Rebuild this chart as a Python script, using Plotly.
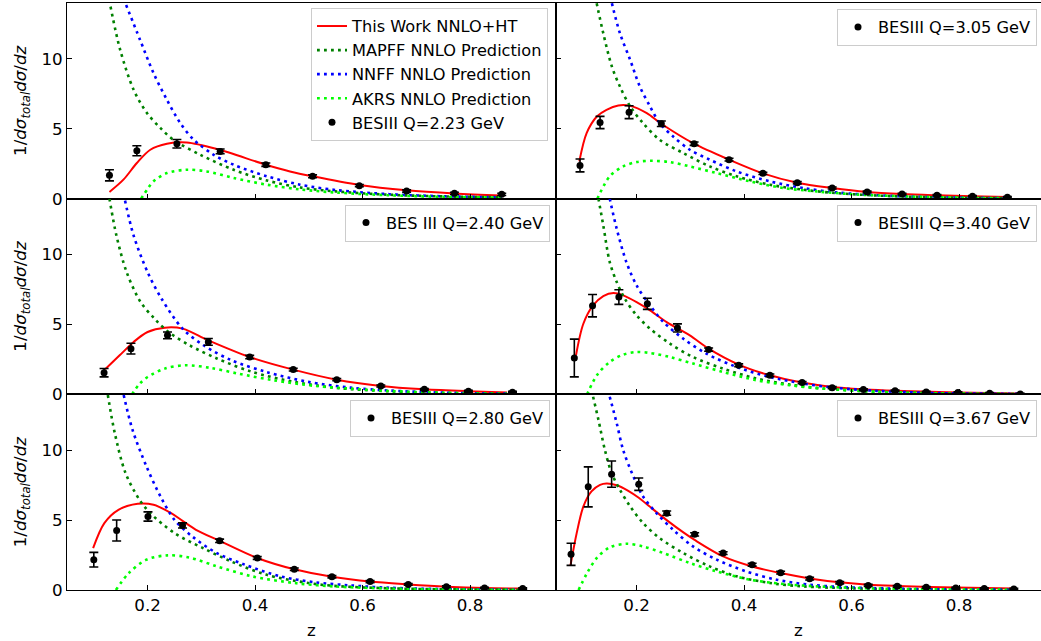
import plotly.graph_objects as go

# ---------------- data ----------------
CURVE_NAMES = ["This Work NNLO+HT", "MAPFF NNLO Prediction", "NNFF NNLO Prediction", "AKRS NNLO Prediction"]
DATA_LABELS = ["BESIII Q=2.23 GeV", "BESIII Q=3.05 GeV", "BES III Q=2.40 GeV",
               "BESIII Q=3.40 GeV", "BESIII Q=2.80 GeV", "BESIII Q=3.67 GeV"]
X_TICKS = [0.2, 0.4, 0.6, 0.8]
X_TICK_TEXT = ["0.2", "0.4", "0.6", "0.8"]
Y_TICKS = [0, 5, 10]
Y_TICK_TEXT = ["0", "5", "10"]

# Panel 1 : Q = 2.23 GeV
Z_P1 = [0.129, 0.180, 0.2545, 0.335, 0.420, 0.507, 0.594, 0.682, 0.771, 0.859]
Y_P1 = [1.67, 3.43, 3.93, 3.38, 2.43, 1.60, 0.93, 0.55, 0.38, 0.31]
E_P1 = [0.40, 0.36, 0.30, 0.17, 0.12, 0.10, 0.08, 0.08, 0.08, 0.08]
RED_Z_P1 = [0.129, 0.155, 0.180, 0.205, 0.236, 0.273, 0.329, 0.420, 0.465, 0.507, 0.594, 0.682, 0.771, 0.859]
RED_Y_P1 = [0.48, 1.36, 2.55, 3.50, 3.93, 4.02, 3.55, 2.43, 1.95, 1.60, 0.98, 0.60, 0.37, 0.22]
MAP_Z_P1 = [0.131, 0.149, 0.174, 0.199, 0.224, 0.248, 0.298, 0.360, 0.422, 0.484, 0.550, 0.650, 0.750, 0.859]
MAP_Y_P1 = [13.74, 10.64, 7.79, 6.12, 5.05, 4.21, 3.14, 2.07, 1.30, 0.80, 0.52, 0.28, 0.16, 0.10]
NNF_Z_P1 = [0.160, 0.186, 0.211, 0.236, 0.261, 0.286, 0.323, 0.360, 0.422, 0.484, 0.550, 0.650, 0.750, 0.859]
NNF_Y_P1 = [13.86, 11.36, 8.98, 7.07, 5.40, 4.21, 3.14, 2.43, 1.60, 1.00, 0.62, 0.32, 0.17, 0.10]
AKR_Z_P1 = [0.188, 0.200, 0.211, 0.236, 0.273, 0.310, 0.360, 0.422, 0.484, 0.550, 0.650, 0.750, 0.859]
AKR_Y_P1 = [0.00, 0.70, 1.24, 1.83, 2.07, 1.95, 1.48, 1.00, 0.66, 0.44, 0.24, 0.13, 0.08]

# Panel 2 : Q = 3.05 GeV
Z_P2 = [0.0947, 0.132, 0.186, 0.246, 0.307, 0.372, 0.435, 0.499, 0.564, 0.629, 0.694, 0.759, 0.825, 0.890]
Y_P2 = [2.38, 5.45, 6.19, 5.36, 3.93, 2.79, 1.81, 1.14, 0.76, 0.48, 0.33, 0.24, 0.17, 0.10]
E_P2 = [0.46, 0.44, 0.46, 0.20, 0.12, 0.10, 0.08, 0.08, 0.07, 0.06, 0.06, 0.05, 0.05, 0.05]
RED_Z_P2 = [0.0934, 0.107, 0.126, 0.144, 0.166, 0.188, 0.219, 0.246, 0.307, 0.372, 0.435, 0.499, 0.564, 0.629, 0.694, 0.759, 0.825, 0.890]
RED_Y_P2 = [2.67, 4.69, 5.88, 6.36, 6.67, 6.64, 6.12, 5.36, 3.93, 2.79, 1.81, 1.14, 0.76, 0.48, 0.33, 0.24, 0.17, 0.12]
MAP_Z_P2 = [0.1257, 0.138, 0.154, 0.169, 0.188, 0.212, 0.243, 0.287, 0.336, 0.386, 0.448, 0.510, 0.572, 0.650, 0.750, 0.890]
MAP_Y_P2 = [13.98, 11.83, 9.45, 8.02, 6.60, 5.40, 4.21, 3.26, 2.31, 1.60, 1.00, 0.64, 0.40, 0.22, 0.10, 0.04]
NNF_Z_P2 = [0.154, 0.169, 0.188, 0.206, 0.225, 0.243, 0.268, 0.299, 0.336, 0.386, 0.448, 0.510, 0.572, 0.650, 0.750, 0.890]
NNF_Y_P2 = [13.98, 11.83, 9.93, 8.02, 6.60, 5.40, 4.45, 3.50, 2.79, 1.95, 1.24, 0.76, 0.45, 0.24, 0.11, 0.04]
AKR_Z_P2 = [0.127, 0.150, 0.175, 0.200, 0.225, 0.262, 0.299, 0.349, 0.411, 0.473, 0.535, 0.600, 0.700, 0.800, 0.890]
AKR_Y_P2 = [0.00, 1.60, 2.31, 2.62, 2.71, 2.62, 2.31, 1.83, 1.24, 0.76, 0.52, 0.32, 0.16, 0.07, 0.03]

# Panel 3 : Q = 2.40 GeV
Z_P3 = [0.119, 0.169, 0.237, 0.313, 0.390, 0.471, 0.552, 0.634, 0.715, 0.797, 0.879]
Y_P3 = [1.55, 3.27, 4.22, 3.75, 2.67, 1.77, 1.05, 0.60, 0.36, 0.22, 0.15]
E_P3 = [0.30, 0.38, 0.24, 0.24, 0.12, 0.10, 0.08, 0.07, 0.06, 0.06, 0.06]
RED_Z_P3 = [0.121, 0.148, 0.174, 0.200, 0.232, 0.265, 0.313, 0.390, 0.471, 0.552, 0.634, 0.715, 0.797, 0.869]
RED_Y_P3 = [1.79, 2.79, 3.75, 4.46, 4.77, 4.70, 3.86, 2.67, 1.77, 1.05, 0.60, 0.36, 0.22, 0.13]
MAP_Z_P3 = [0.129, 0.142, 0.161, 0.187, 0.213, 0.239, 0.278, 0.330, 0.395, 0.473, 0.551, 0.650, 0.750, 0.869]
MAP_Y_P3 = [14.00, 11.36, 8.74, 6.60, 5.41, 4.46, 3.51, 2.55, 1.60, 0.89, 0.46, 0.22, 0.10, 0.04]
NNF_Z_P3 = [0.158, 0.174, 0.200, 0.226, 0.265, 0.304, 0.356, 0.421, 0.499, 0.577, 0.650, 0.750, 0.869]
NNF_Y_P3 = [13.86, 11.36, 8.74, 6.84, 4.70, 3.51, 2.44, 1.60, 0.89, 0.48, 0.27, 0.12, 0.05]
AKR_Z_P3 = [0.171, 0.185, 0.200, 0.232, 0.271, 0.317, 0.369, 0.434, 0.512, 0.577, 0.650, 0.750, 0.869]
AKR_Y_P3 = [0.00, 0.75, 1.24, 1.84, 2.08, 1.89, 1.48, 1.01, 0.60, 0.41, 0.24, 0.11, 0.04]

# Panel 4 : Q = 3.40 GeV
Z_P4 = [0.0841, 0.118, 0.167, 0.220, 0.276, 0.334, 0.390, 0.448, 0.508, 0.564, 0.622, 0.681, 0.739, 0.798, 0.857, 0.914]
Y_P4 = [2.60, 6.34, 6.96, 6.48, 4.75, 3.20, 2.08, 1.36, 0.84, 0.48, 0.34, 0.25, 0.17, 0.13, 0.08, 0.03]
E_P4 = [1.35, 0.80, 0.52, 0.40, 0.29, 0.12, 0.10, 0.10, 0.08, 0.07, 0.06, 0.05, 0.05, 0.05, 0.05, 0.04]
RED_Z_P4 = [0.0872, 0.1009, 0.119, 0.138, 0.157, 0.175, 0.200, 0.225, 0.256, 0.299, 0.334, 0.390, 0.448, 0.508, 0.564, 0.622, 0.681, 0.798, 0.914]
RED_Y_P4 = [2.79, 5.05, 6.36, 7.03, 7.25, 7.08, 6.60, 6.01, 5.17, 4.22, 3.27, 2.13, 1.36, 0.84, 0.53, 0.36, 0.25, 0.13, 0.05]
MAP_Z_P4 = [0.129, 0.138, 0.150, 0.163, 0.178, 0.200, 0.225, 0.262, 0.305, 0.361, 0.423, 0.485, 0.547, 0.650, 0.750, 0.914]
MAP_Y_P4 = [14.00, 12.08, 9.46, 8.03, 6.84, 5.65, 4.70, 3.63, 2.67, 1.84, 1.13, 0.70, 0.41, 0.18, 0.08, 0.02]
NNF_Z_P4 = [0.150, 0.163, 0.181, 0.200, 0.225, 0.250, 0.287, 0.330, 0.386, 0.448, 0.510, 0.572, 0.650, 0.750, 0.914]
NNF_Y_P4 = [14.00, 11.84, 9.46, 7.79, 6.36, 5.17, 3.98, 2.91, 1.96, 1.24, 0.77, 0.46, 0.24, 0.10, 0.03]
AKR_Z_P4 = [0.108, 0.126, 0.150, 0.175, 0.200, 0.225, 0.262, 0.305, 0.361, 0.423, 0.485, 0.547, 0.650, 0.750, 0.914]
AKR_Y_P4 = [0.00, 1.36, 2.32, 2.84, 3.03, 2.96, 2.67, 2.20, 1.60, 1.01, 0.65, 0.41, 0.18, 0.08, 0.02]

# Panel 5 : Q = 2.80 GeV
Z_P5 = [0.0999, 0.1424, 0.2007, 0.265, 0.334, 0.404, 0.473, 0.543, 0.614, 0.685, 0.756, 0.827, 0.898]
Y_P5 = [2.17, 4.26, 5.26, 4.62, 3.52, 2.29, 1.48, 0.95, 0.60, 0.40, 0.24, 0.14, 0.10]
E_P5 = [0.52, 0.75, 0.33, 0.18, 0.12, 0.10, 0.09, 0.08, 0.07, 0.06, 0.06, 0.05, 0.05]
RED_Z_P5 = [0.0986, 0.1195, 0.1457, 0.1817, 0.211, 0.2438, 0.265, 0.290, 0.334, 0.404, 0.473, 0.543, 0.614, 0.685, 0.756, 0.827, 0.898]
RED_Y_P5 = [3.00, 4.79, 5.74, 6.17, 6.10, 5.50, 4.95, 4.31, 3.52, 2.29, 1.48, 0.95, 0.60, 0.40, 0.24, 0.14, 0.10]
MAP_Z_P5 = [0.126, 0.139, 0.159, 0.185, 0.205, 0.250, 0.303, 0.355, 0.420, 0.499, 0.545, 0.650, 0.750, 0.898]
MAP_Y_P5 = [13.95, 11.21, 8.36, 6.45, 5.50, 4.07, 3.00, 2.05, 1.10, 0.50, 0.30, 0.12, 0.05, 0.02]
NNF_Z_P5 = [0.1555, 0.172, 0.198, 0.224, 0.250, 0.283, 0.329, 0.381, 0.447, 0.512, 0.577, 0.650, 0.750, 0.898]
NNF_Y_P5 = [13.95, 11.45, 8.83, 6.69, 5.02, 3.83, 2.64, 1.81, 0.98, 0.55, 0.33, 0.16, 0.07, 0.02]
AKR_Z_P5 = [0.141, 0.165, 0.198, 0.237, 0.277, 0.329, 0.394, 0.473, 0.545, 0.650, 0.750, 0.898]
AKR_Y_P5 = [0.00, 1.21, 2.17, 2.48, 2.33, 1.69, 0.98, 0.50, 0.26, 0.10, 0.04, 0.01]

# Panel 6 : Q = 3.67 GeV
Z_P6 = [0.078, 0.110, 0.1535, 0.204, 0.256, 0.308, 0.361, 0.415, 0.468, 0.522, 0.578, 0.631, 0.685, 0.739, 0.794, 0.847, 0.902]
Y_P6 = [2.55, 7.38, 8.29, 7.57, 5.50, 3.98, 2.64, 1.81, 1.24, 0.81, 0.52, 0.33, 0.26, 0.19, 0.14, 0.10, 0.07]
E_P6 = [0.79, 1.43, 0.94, 0.44, 0.15, 0.12, 0.10, 0.10, 0.10, 0.10, 0.08, 0.07, 0.06, 0.06, 0.05, 0.05, 0.05]
RED_Z_P6 = [0.077, 0.0885, 0.101, 0.116, 0.132, 0.144, 0.163, 0.1845, 0.204, 0.225, 0.256, 0.287, 0.308, 0.361, 0.415, 0.468, 0.522, 0.578, 0.631, 0.685, 0.794, 0.902]
RED_Y_P6 = [1.76, 4.07, 5.98, 7.05, 7.52, 7.62, 7.50, 7.10, 6.60, 5.95, 5.00, 4.12, 3.58, 2.40, 1.68, 1.21, 0.83, 0.55, 0.38, 0.29, 0.17, 0.10]
MAP_Z_P6 = [0.119, 0.129, 0.141, 0.1535, 0.169, 0.188, 0.212, 0.243, 0.287, 0.336, 0.386, 0.448, 0.510, 0.600, 0.700, 0.902]
MAP_Y_P6 = [13.83, 12.17, 10.02, 8.36, 7.17, 5.98, 4.79, 3.71, 2.64, 1.69, 0.98, 0.50, 0.26, 0.12, 0.06, 0.02]
NNF_Z_P6 = [0.150, 0.163, 0.175, 0.194, 0.212, 0.237, 0.268, 0.305, 0.349, 0.404, 0.460, 0.522, 0.584, 0.700, 0.800, 0.902]
NNF_Y_P6 = [13.83, 11.93, 10.02, 8.12, 6.69, 5.50, 4.31, 3.12, 2.17, 1.33, 0.74, 0.38, 0.21, 0.08, 0.04, 0.02]
AKR_Z_P6 = [0.092, 0.107, 0.126, 0.150, 0.181, 0.212, 0.250, 0.299, 0.349, 0.411, 0.473, 0.535, 0.650, 0.750, 0.902]
AKR_Y_P6 = [0.00, 1.15, 2.30, 3.05, 3.31, 3.12, 2.64, 1.93, 1.33, 0.74, 0.43, 0.26, 0.10, 0.05, 0.02]

# ---------------- assemble ----------------
PANELS = [
    (Z_P1, Y_P1, E_P1, RED_Z_P1, RED_Y_P1, MAP_Z_P1, MAP_Y_P1, NNF_Z_P1, NNF_Y_P1, AKR_Z_P1, AKR_Y_P1),
    (Z_P2, Y_P2, E_P2, RED_Z_P2, RED_Y_P2, MAP_Z_P2, MAP_Y_P2, NNF_Z_P2, NNF_Y_P2, AKR_Z_P2, AKR_Y_P2),
    (Z_P3, Y_P3, E_P3, RED_Z_P3, RED_Y_P3, MAP_Z_P3, MAP_Y_P3, NNF_Z_P3, NNF_Y_P3, AKR_Z_P3, AKR_Y_P3),
    (Z_P4, Y_P4, E_P4, RED_Z_P4, RED_Y_P4, MAP_Z_P4, MAP_Y_P4, NNF_Z_P4, NNF_Y_P4, AKR_Z_P4, AKR_Y_P4),
    (Z_P5, Y_P5, E_P5, RED_Z_P5, RED_Y_P5, MAP_Z_P5, MAP_Y_P5, NNF_Z_P5, NNF_Y_P5, AKR_Z_P5, AKR_Y_P5),
    (Z_P6, Y_P6, E_P6, RED_Z_P6, RED_Y_P6, MAP_Z_P6, MAP_Y_P6, NNF_Z_P6, NNF_Y_P6, AKR_Z_P6, AKR_Y_P6),
]

FONT = "DejaVu Sans"
FS = 16.7
LEG_FS = 16.2
COLORS = ["#ff0000", "#008000", "#0000ff", "#00ff00"]
DOT = "2.8px,4.2px"

W, H = 1041, 641
ML, MR, MT, MB = 67, 0, 3, 51
plot_w = W - ML - MR
split = (556 - ML) / plot_w
X_RANGE_L = [0.05, 0.96]
px_per_unit = split * plot_w / (X_RANGE_L[1] - X_RANGE_L[0])
X_RANGE_R = [0.05, 0.05 + (1 - split) * plot_w / px_per_unit]
plot_h = H - MT - MB

fig = go.Figure()
layout = {}
YTITLE = "1/<i>dσ</i><sub><i>total</i></sub><i>dσ</i>/<i>dz</i>"

for i, p in enumerate(PANELS):
    k = i + 1
    row, col = i // 2, i % 2
    sfx = "" if k == 1 else str(k)
    xa, ya = "x" + sfx, "y" + sfx
    leg = "legend" + sfx
    zd, yd, ed, rz, ry, mz, my, nz, ny, az, ay = p
    first = (k == 1)
    curves = [(rz, ry), (mz, my), (nz, ny), (az, ay)]
    for j, (cz, cy) in enumerate(curves):
        fig.add_trace(go.Scatter(
            x=cz, y=cy, mode="lines", name=CURVE_NAMES[j],
            line=dict(color=COLORS[j], width=2.0 if j == 0 else 2.6,
                      dash="solid" if j == 0 else DOT, shape="spline", smoothing=0.9),
            showlegend=first, legend=leg, xaxis=xa, yaxis=ya, hoverinfo="skip"))
    fig.add_trace(go.Scatter(
        x=zd, y=yd, mode="markers", name=DATA_LABELS[i],
        marker=dict(color="black", size=7),
        error_y=dict(type="data", array=ed, color="black", thickness=1.6, width=4.5),
        legend=leg, showlegend=True, xaxis=xa, yaxis=ya))

    xdom = [0, split] if col == 0 else [split, 1]
    ydom = [1 - (row + 1) / 3, 1 - row / 3]
    xaxis = dict(
        domain=xdom, range=X_RANGE_L if col == 0 else X_RANGE_R, anchor=ya,
        showline=True, linecolor="black", linewidth=1, mirror=True,
        ticks="inside", ticklen=5, tickwidth=1, tickcolor="black",
        tickvals=X_TICKS, ticktext=X_TICK_TEXT, showticklabels=(row == 2),
        showgrid=False, zeroline=False,
        tickfont=dict(family=FONT, size=FS, color="black"))
    if row == 2:
        xaxis["title"] = dict(text="z", font=dict(family=FONT, size=FS, color="black"), standoff=10)
    yaxis = dict(
        domain=ydom, range=[0, 14], anchor=xa,
        showline=True, linecolor="black", linewidth=1, mirror=(col == 0),
        ticks="inside", ticklen=5, tickwidth=1, tickcolor="black",
        tickvals=Y_TICKS, ticktext=Y_TICK_TEXT, showticklabels=(col == 0),
        showgrid=False, zeroline=False,
        tickfont=dict(family=FONT, size=FS, color="black"))
    if col == 0:
        yaxis["title"] = dict(text=YTITLE, font=dict(family=FONT, size=FS, color="black"), standoff=10)
    layout["xaxis" + sfx] = xaxis
    layout["yaxis" + sfx] = yaxis

    # legend placement (top-right of each panel)
    right_px = 548 if k == 1 else (550 if col == 0 else 1037)
    top_px = [8.0, 9.0, 204.5, 204.5, 400.0, 400.0][i]
    layout[leg] = dict(
        x=(right_px - ML) / plot_w, y=1 - (top_px - MT) / plot_h,
        xanchor="right", yanchor="top",
        bgcolor="rgba(255,255,255,0.8)", bordercolor="#cccccc", borderwidth=1,
        font=dict(family=FONT, size=LEG_FS, color="black"), itemwidth=30)

fig.update_layout(
    width=W, height=H, margin=dict(l=ML, r=MR, t=MT, b=MB),
    paper_bgcolor="white", plot_bgcolor="white",
    font=dict(family=FONT, size=FS, color="black"),
    hovermode=False,
    **layout)

fig.write_html("out.html", config={"displayModeBar": False},
               post_script="document.body.style.margin='0px';")
